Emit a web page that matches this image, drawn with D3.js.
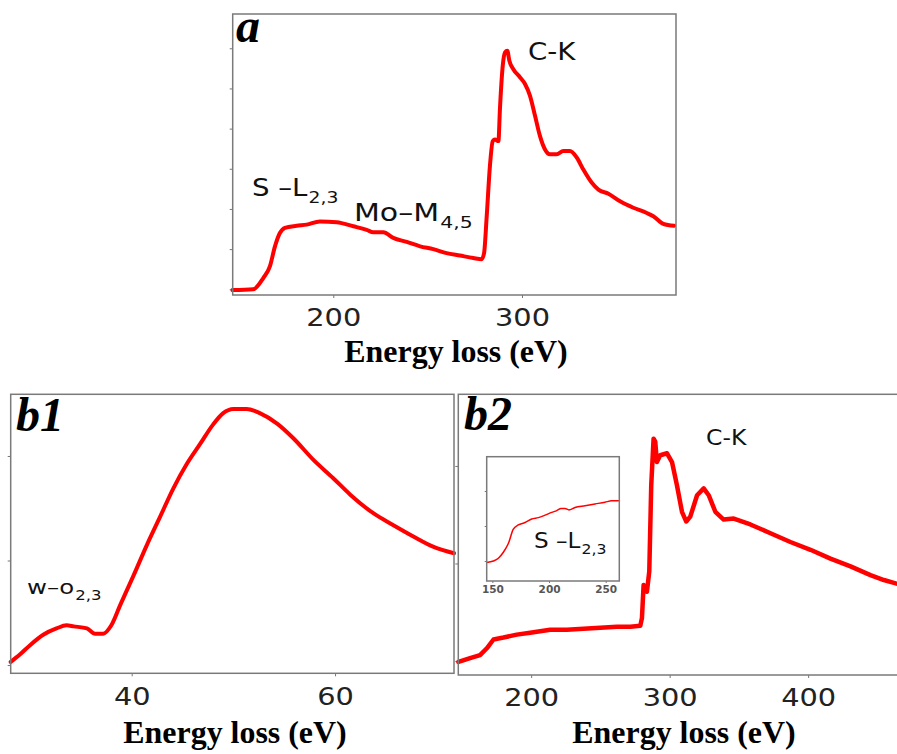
<!DOCTYPE html>
<html>
<head>
<meta charset="utf-8">
<script src="https://cdn.jsdelivr.net/npm/d3@7"></script>
<style>
  body { margin: 0; background: #fff; }
  svg { display: block; }
</style>
</head>
<body>
<script>
// panel a: EELS, S-L, Mo-M and C-K edges
var aEnergy    = [146.6,157.6,162.9,166.4,169.1,171.7,174.4,180.6,185.9,192.9,201.8,210.6,217.7,221.2,226.5,231.8,238.9,246,253,260,267.1,274.2,278.6,279.9,281.3,283,284.5,285.7,287.5,288.3,289.8,291,292.2,293.3,295.4,298.9,301.6,304.2,306.9,309.5,312.2,314.8,318.4,321.9,325.4,329,332.5,337,340.5,345.8,352,359,366.1,369.6,374.9,380.6];
var aIntensity = [-0.02,0,0.28,0.57,1.07,1.4,1.53,1.58,1.61,1.69,1.67,1.57,1.48,1.42,1.42,1.28,1.18,1.07,1.0,0.9,0.84,0.78,0.75,0.9,1.82,3.07,3.69,3.73,3.69,4.48,5.57,5.9,5.94,5.69,5.48,5.28,5.11,4.82,4.32,3.82,3.48,3.36,3.36,3.44,3.44,3.28,2.98,2.65,2.48,2.38,2.19,2.03,1.9,1.82,1.63,1.58];

// panel b1: low loss, W-O edge
var b1Energy    = [28.1,29.0,30.0,31.3,32.6,33.6,34.3,35.6,36.4,37.2,38.0,38.9,40.2,41.5,42.8,44.1,45.4,46.7,48.0,49.0,50.0,51.3,52.6,54.3,55.9,57.9,59.8,61.5,63.8,65.7,67.7,69.7,71.7];
var b1Intensity = [0.03,0.1,0.19,0.29,0.35,0.38,0.37,0.35,0.3,0.3,0.38,0.58,0.86,1.15,1.42,1.69,1.92,2.11,2.3,2.41,2.45,2.45,2.41,2.31,2.17,1.96,1.79,1.63,1.45,1.34,1.23,1.13,1.07];

// panel b2: core loss, C-K edge
var b2Energy    = [147.5,155.9,163.1,168,172.8,180,189.6,199.3,213.7,225.8,237.8,249.9,261.9,271.6,278.8,280,281.2,283.6,285.3,286.7,288.4,289.6,290.8,293.2,298.1,301.7,305.3,308.9,312,314.9,319.8,324.6,328.2,333,339,346.3,358.3,372.8,387.2,401.7,416.1,430.6,445,454.7,464.6];
var b2Intensity = [-0.01,0.03,0.06,0.13,0.22,0.24,0.27,0.29,0.32,0.32,0.33,0.34,0.35,0.35,0.36,0.44,0.78,0.71,0.92,1.8,2.28,2.25,2.04,2.11,2.13,2.04,1.8,1.53,1.43,1.48,1.7,1.77,1.7,1.53,1.45,1.46,1.4,1.31,1.22,1.14,1.05,0.97,0.88,0.83,0.79];

// inset of b2: S-L edge
var inEnergy    = [145,150.9,155.3,159.7,164.1,168.5,172.9,178.8,184.7,190.6,196.5,202.4,206.8,210.6,214.1,217.6,222.9,231.8,240.6,249.4,255.3,262.1];
var inIntensity = [-0.04,0,0.08,0.25,0.5,0.91,1.03,1.1,1.2,1.24,1.31,1.39,1.44,1.5,1.5,1.46,1.53,1.58,1.63,1.68,1.72,1.72];

var aTicks  = [200, 300],      aYTicks  = [0,1,2,3,4,5,6];
var b1Ticks = [40, 60],        b1YTicks = [0,1,2];
var b2Ticks = [200, 300, 400], b2YTicks = [0,1,2];
var inTicks = [150, 200, 250], inYTicks = [0,1,2];

var W = 897, H = 754;
var svg = d3.select("body").append("svg")
    .attr("width", W)
    .attr("height", H);

function zip(xs, ys) {
  return xs.map(function(x, i) { return [x, ys[i]]; });
}

// draws one framed panel, returns the scales
function panel(p) {
  var x = d3.scaleLinear().domain(p.xDomain).range([p.left, p.right]);
  var y = d3.scaleLinear().domain(p.yDomain).range([p.bottom, p.top]);

  var g = svg.append("g");

  // y ticks, no labels
  g.append("g")
      .attr("transform", "translate(" + p.left + ",0)")
      .call(d3.axisLeft(y).tickValues(p.yTicks).tickSize(p.tick).tickFormat(""))
      .call(function(s) {
        s.select(".domain").remove();
        s.selectAll("line").attr("stroke", "#777").attr("stroke-width", 1);
      });

  // x axis
  var xa = g.append("g")
      .attr("transform", "translate(0," + p.bottom + ")")
      .call(d3.axisBottom(x).tickValues(p.xTicks).tickSize(p.tick).tickPadding(p.pad));
  xa.select(".domain").remove();
  xa.selectAll("line").attr("stroke", "#777").attr("stroke-width", 1);
  xa.selectAll("text")
      .attr("font-family", "DejaVu Sans, Verdana, sans-serif")
      .attr("font-size", p.tickFont)
      .attr("fill", p.tickColor || "#222")
      .attr("font-weight", p.tickWeight || "normal")
      .attr("transform", "scale(" + (p.tickStretch || 1) + ",1)");

  var line = d3.line()
      .x(function(d) { return x(d[0]); })
      .y(function(d) { return y(d[1]); })
      .curve(p.curve || d3.curveMonotoneX);

  g.append("path")
      .datum(zip(p.xs, p.ys))
      .attr("fill", "none")
      .attr("stroke", "#ff0000")
      .attr("stroke-width", p.lw)
      .attr("stroke-linejoin", "round")
      .attr("stroke-linecap", "round")
      .attr("d", line);

  g.append("rect")
      .attr("x", p.left)
      .attr("y", p.top)
      .attr("width", p.right - p.left)
      .attr("height", p.bottom - p.top)
      .attr("fill", "none")
      .attr("stroke", "#7a7a7a")
      .attr("stroke-width", 1.5);

  return {x: x, y: y};
}

function letter(txt, x, y) {
  svg.append("text")
      .attr("x", x).attr("y", y)
      .attr("font-family", "Liberation Serif, Times New Roman, serif")
      .attr("font-weight", "bold")
      .attr("font-style", "italic")
      .attr("font-size", 48)
      .text(txt);
}

function xlabel(cx, y) {
  svg.append("text")
      .attr("transform", "translate(" + cx + "," + y + ") scale(1.03,1)")
      .attr("text-anchor", "middle")
      .attr("font-family", "Liberation Serif, Times New Roman, serif")
      .attr("font-weight", "bold")
      .attr("font-size", 31)
      .text("Energy loss (eV)");
}

// main text plus optional subscript
function note(main, sub, x, y, size, sx) {
  var t = svg.append("text")
      .attr("transform", "translate(" + x + "," + y + ") scale(" + sx + ",1)")
      .attr("font-family", "DejaVu Sans, Verdana, sans-serif")
      .attr("font-size", size)
      .attr("fill", "#111");
  t.append("tspan").text(main);
  if (sub) {
    t.append("tspan")
        .attr("dy", size * 0.28)
        .attr("dx", 1)
        .attr("font-size", size * 0.68)
        .text(sub);
  }
}

// panel a
panel({
  left: 232.7, right: 676, top: 14, bottom: 295,
  xDomain: [146.7, 381.6], yDomain: [-0.142, 6.853],
  xTicks: aTicks, yTicks: aYTicks, tick: 3, pad: 11, tickFont: 24, tickStretch: 1.2,
  xs: aEnergy, ys: aIntensity, lw: 4
});
letter("a", 236, 42);
xlabel(456, 362);
note("C-K", null, 528, 59.5, 24, 1.15);
note("S \u2013L", "2,3", 252, 196, 24, 1.15);
note("Mo\u2013M", "4,5", 354, 221, 24, 1.25);

// panel b1
panel({
  left: 10.7, right: 454, top: 394.3, bottom: 673.3,
  xDomain: [28.1, 71.7], yDomain: [-0.079, 2.59],
  xTicks: b1Ticks, yTicks: b1YTicks, tick: 3, pad: 12, tickFont: 24, tickStretch: 1.2,
  xs: b1Energy, ys: b1Intensity, lw: 4
});
letter("b1", 16, 431);
xlabel(235, 743);
note("w\u2013o", "2,3", 27, 594, 20, 1.22);

// panel b2
panel({
  left: 458.3, right: 899, top: 394.3, bottom: 675,
  xDomain: [147.4, 465.6], yDomain: [-0.144, 2.735],
  xTicks: b2Ticks, yTicks: b2YTicks, tick: 3, pad: 11, tickFont: 24, tickStretch: 1.2,
  xs: b2Energy, ys: b2Intensity, lw: 4.5, curve: d3.curveLinear
});
letter("b2", 464, 430);
xlabel(684, 743);
note("C-K", null, 706, 445, 21, 1.12);

// inset in b2
svg.append("rect")
    .attr("x", 486.7).attr("y", 456.7)
    .attr("width", 132.6).attr("height", 124.3)
    .attr("fill", "#fff");
panel({
  left: 486.7, right: 619.3, top: 456.7, bottom: 581,
  xDomain: [145, 262], yDomain: [-0.571, 2.98],
  xTicks: inTicks, yTicks: inYTicks, tick: 2, pad: 3, tickFont: 10.5,
  tickColor: "#555", tickWeight: "bold",
  xs: inEnergy, ys: inIntensity, lw: 1.5
});
note("S \u2013L", "2,3", 534, 548, 21, 1.1);
</script>
</body>
</html>
